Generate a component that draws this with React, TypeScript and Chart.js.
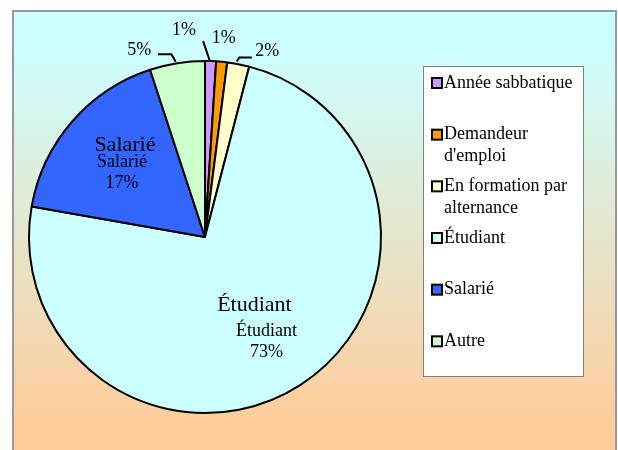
import React, { useEffect, useRef } from "react";
import { Chart, registerables } from "chart.js";

Chart.register(...registerables);

const categories = [
  "Année sabbatique",
  "Demandeur d'emploi",
  "En formation par alternance",
  "Étudiant",
  "Salarié",
  "Autre",
];
const values = [1, 1, 2, 73, 17, 5];
const percentLabels = ["1%", "1%", "2%", "73%", "17%", "5%"];
const colors = ["#CC99FF", "#FF9900", "#FFFFCC", "#CCFFFF", "#3366FF", "#CCFFCC"];

const FONT = "'Liberation Serif', 'Times New Roman', serif";

// label styling (offsets relative to the slice's outer edge point / mid direction)
type OutsideStyle = { line: [number, number][]; label: [number, number] };
const outsideStyles: Record<number, OutsideStyle> = {
  0: { line: [[-1, -1], [-7.5, -20]], label: [-26.5, -31] },
  1: { line: [], label: [2, -24] },
  2: { line: [[-1.5, -2.6], [1, -6.6], [13.5, -6.6]], label: [29, -13] },
  5: { line: [[-1.5, -1.5], [-5.8, -8.9], [-19.2, -8.9]], label: [-38, -13] },
};
type InsideStyle = { factor: number; shift: [number, number]; big: [number, number] };
const insideStyles: Record<number, InsideStyle> = {
  3: { factor: 0.74, shift: [-9, -4.6], big: [-12, -37] },
  4: { factor: 0.575, shift: [-6.6, 2.4], big: [3, -28] },
};

const framePlugin = {
  id: "frame",
  beforeDraw(chart: any) {
    const ctx = chart.ctx;
    ctx.save();
    ctx.fillStyle = "#FFFFFF";
    ctx.fillRect(0, 0, chart.width, chart.height);
    const g = ctx.createLinearGradient(0, 11, 0, 450);
    g.addColorStop(0, "#CCFFFF");
    g.addColorStop(0.08, "#CCFFFF");
    g.addColorStop(0.95, "#FFCC99");
    g.addColorStop(1, "#FFCC99");
    ctx.fillStyle = g;
    ctx.fillRect(13, 11, 603, 460);
    ctx.strokeStyle = "#999999";
    ctx.lineWidth = 2;
    ctx.strokeRect(13, 11, 603, 460);
    ctx.restore();
  },
};

const labelPlugin = {
  id: "pieLabels",
  afterDatasetsDraw(chart: any) {
    const ctx = chart.ctx;
    const meta = chart.getDatasetMeta(0);
    ctx.save();
    ctx.fillStyle = "#000000";
    ctx.strokeStyle = "#000000";
    ctx.textAlign = "center";
    ctx.textBaseline = "middle";
    meta.data.forEach((arc: any, i: number) => {
      const mid = (arc.startAngle + arc.endAngle) / 2;
      const R = arc.outerRadius;
      const ex = arc.x + Math.cos(mid) * R;
      const ey = arc.y + Math.sin(mid) * R;
      const os = outsideStyles[i];
      if (os) {
        if (os.line.length > 1) {
          ctx.lineWidth = 2;
          ctx.beginPath();
          os.line.forEach(([dx, dy], k) => {
            if (k === 0) ctx.moveTo(ex + dx, ey + dy);
            else ctx.lineTo(ex + dx, ey + dy);
          });
          ctx.stroke();
        }
        ctx.font = `18px ${FONT}`;
        ctx.fillText(percentLabels[i], ex + os.label[0], ey + os.label[1]);
      }
      const is = insideStyles[i];
      if (is) {
        const cx = arc.x + Math.cos(mid) * R * is.factor + is.shift[0];
        const cy = arc.y + Math.sin(mid) * R * is.factor + is.shift[1];
        ctx.font = `18px ${FONT}`;
        ctx.fillText(categories[i], cx, cy - 10.5);
        ctx.fillText(percentLabels[i], cx, cy + 10.5);
        ctx.font = `22px ${FONT}`;
        ctx.fillText(categories[i], cx + is.big[0], cy + is.big[1]);
      }
    });
    ctx.restore();
  },
};

const legendPlugin = {
  id: "boxLegend",
  afterDraw(chart: any) {
    const ctx = chart.ctx;
    const left = 423.5, top = 66.5, right = 583.5, bottom = 376.5;
    ctx.save();
    ctx.fillStyle = "#FFFFFF";
    ctx.fillRect(left, top, right - left, bottom - top);
    ctx.strokeStyle = "#808080";
    ctx.lineWidth = 1;
    ctx.strokeRect(left, top, right - left, bottom - top);
    const slot = (bottom - top) / categories.length;
    ctx.font = `18px ${FONT}`;
    ctx.textBaseline = "middle";
    ctx.textAlign = "left";
    const textX = 444;
    const maxW = right - textX - 2;
    categories.forEach((name, i) => {
      const cy = top + 16.5 + i * slot;
      const words = name.split(" ");
      const lines: string[] = [];
      let cur = "";
      words.forEach((w) => {
        const t = cur ? cur + " " + w : w;
        if (ctx.measureText(t).width > maxW && cur) {
          lines.push(cur);
          cur = w;
        } else cur = t;
      });
      if (cur) lines.push(cur);
      ctx.fillStyle = colors[i];
      ctx.fillRect(432, cy - 5, 10, 10);
      ctx.strokeStyle = "#000000";
      ctx.lineWidth = 2;
      ctx.strokeRect(432, cy - 5, 10, 10);
      ctx.fillStyle = "#000000";
      lines.forEach((ln, k) => ctx.fillText(ln, textX, cy + k * 22));
    });
    ctx.restore();
  },
};

export default function App() {
  const ref = useRef<HTMLCanvasElement | null>(null);
  useEffect(() => {
    if (!ref.current) return;
    const chart = new Chart(ref.current, {
      type: "pie",
      data: {
        labels: categories,
        datasets: [
          {
            data: values,
            backgroundColor: colors,
            borderColor: "#000000",
            borderWidth: 2,
            borderAlign: "center",
          } as any,
        ],
      },
      options: {
        responsive: false,
        animation: false,
        layout: { padding: { left: 28, right: 236, top: 60, bottom: 36 } },
        plugins: {
          legend: { display: false },
          tooltip: { enabled: false },
        },
      },
      plugins: [framePlugin, labelPlugin, legendPlugin],
    });
    return () => chart.destroy();
  }, []);
  return (
    <div style={{ position: "fixed", left: 0, top: 0, width: 618, height: 450 }}>
      <canvas ref={ref} width={618} height={450} style={{ width: 618, height: 450 }} />
    </div>
  );
}
